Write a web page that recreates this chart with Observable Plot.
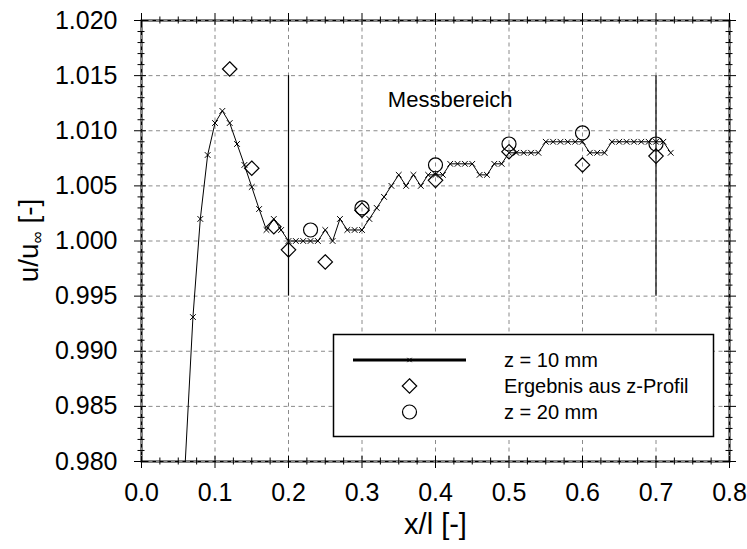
<!DOCTYPE html>
<html><head><meta charset="utf-8">
<script src="https://cdn.jsdelivr.net/npm/d3@7"></script>
<script src="https://cdn.jsdelivr.net/npm/@observablehq/plot@0.6"></script>
<style>body{margin:0;background:#fff;} svg{display:block;}</style>
</head><body><div id="chart"></div>
<script>
// ---- data ----
const xZ10 = [0.05,0.07,0.08,0.09,0.10,0.11,0.12,0.13,0.14,0.15,0.16,0.17,0.18,0.19,0.20,0.21,0.22,0.23,0.24,0.25,0.26,0.27,0.28,0.29,0.30,0.31,0.32,0.33,0.34,0.35,0.36,0.37,0.38,0.39,0.40,0.41,0.42,0.43,0.44,0.45,0.46,0.47,0.48,0.49,0.50,0.51,0.52,0.53,0.54,0.55,0.56,0.57,0.58,0.59,0.60,0.61,0.62,0.63,0.64,0.65,0.66,0.67,0.68,0.69,0.70,0.71,0.72];
const yZ10 = [0.968,0.9931,1.0020,1.0078,1.0107,1.0118,1.0107,1.0088,1.0069,1.0049,1.0029,1.0010,1.0020,1.0010,1.0000,1.0000,1.0000,1.0000,1.0000,1.0010,1.0000,1.0020,1.0010,1.0010,1.0010,1.0020,1.0030,1.0040,1.0050,1.0060,1.0050,1.0060,1.0050,1.0060,1.0060,1.0060,1.0070,1.0070,1.0070,1.0070,1.0060,1.0060,1.0070,1.0070,1.0080,1.0080,1.0080,1.0080,1.0080,1.0090,1.0090,1.0090,1.0090,1.0090,1.0090,1.0080,1.0080,1.0080,1.0090,1.0090,1.0090,1.0090,1.0090,1.0090,1.0090,1.0090,1.0080];
const xProfil = [0.12,0.15,0.18,0.20,0.25,0.30,0.40,0.50,0.60,0.70];
const yProfil = [1.0156,1.0066,1.0013,0.9992,0.9981,1.0028,1.0055,1.0081,1.0069,1.0077];
const xZ20 = [0.23,0.30,0.40,0.50,0.60,0.70];
const yZ20 = [1.0010,1.0030,1.0069,1.0088,1.0098,1.0088];
const xTickLabels = [0.0,0.1,0.2,0.3,0.4,0.5,0.6,0.7,0.8];
const yTickLabels = [0.980,0.985,0.990,0.995,1.000,1.005,1.010,1.015,1.020];
const rangeX = [0.2, 0.7];          // Messbereich limits
const rangeY = [0.995, 1.015];
const seriesNames = ["z = 10 mm", "Ergebnis aus z-Profil", "z = 20 mm"];
const annotations = [{label: "Messbereich", x: 0.42, y: 1.0128}];
const xTitle = "x/l [-]";

// ---- tables ----
const z10 = xZ10.map((x, i) => ({x, y: yZ10[i]}));
const profil = xProfil.map((x, i) => ({x, y: yProfil[i]}));
const z20 = xZ20.map((x, i) => ({x, y: yZ20[i]}));
const xMinor = d3.range(0, 33).filter(i => i % 4 !== 0).map(i => i * 0.025);
const yMinor = d3.range(0, 41).filter(i => i % 5 !== 0).map(i => 0.98 + i * 0.001);

const W = 747, H = 549;
const mL = 141, mR = 18, mT = 20, mB = 88;
const PW = W - mL - mR, PH = H - mT - mB;
const font = "'Liberation Sans', Arial, Helvetica, sans-serif";
const gridStyle = {stroke: "#8a8a8a", strokeOpacity: 1, strokeDasharray: "4,3.5", strokeWidth: 1};

const plot = Plot.plot({
  width: W, height: H,
  marginLeft: mL, marginRight: mR, marginTop: mT, marginBottom: mB,
  style: {fontFamily: font, background: "#fff", color: "#000", overflow: "visible"},
  x: {domain: [0, 0.8]},
  y: {domain: [0.98, 1.02]},
  marks: [
    Plot.frame({stroke: "#000", strokeWidth: 2}),
    Plot.gridX(xTickLabels, gridStyle),
    Plot.gridY(yTickLabels, gridStyle),
    // major ticks (crossing the frame)
    Plot.tickX(xTickLabels, {x: d => d, insetTop: PH - 5, insetBottom: -7, stroke: "#000"}),
    Plot.tickX(xTickLabels, {x: d => d, insetTop: -7, insetBottom: PH - 5, stroke: "#000"}),
    Plot.tickY(yTickLabels, {y: d => d, insetLeft: -7, insetRight: PW - 5, stroke: "#000"}),
    Plot.tickY(yTickLabels, {y: d => d, insetLeft: PW - 5, insetRight: -7, stroke: "#000"}),
    // minor ticks
    Plot.tickX(xMinor, {x: d => d, insetTop: PH - 3.5, insetBottom: -3.5, stroke: "#000"}),
    Plot.tickX(xMinor, {x: d => d, insetTop: -3.5, insetBottom: PH - 3.5, stroke: "#000"}),
    Plot.tickY(yMinor, {y: d => d, insetLeft: -3.5, insetRight: PW - 3.5, stroke: "#000"}),
    Plot.tickY(yMinor, {y: d => d, insetLeft: PW - 3.5, insetRight: -3.5, stroke: "#000"}),
    // tick labels
    Plot.axisX({ticks: xTickLabels, tickSize: 0, tickPadding: 22, tickFormat: d3.format(".1f"), fontSize: 25, label: null}),
    Plot.axisY({ticks: yTickLabels, tickSize: 0, tickPadding: 24, tickFormat: d3.format(".3f"), fontSize: 25, label: null}),
    // x title
    Plot.text([xTitle], {frameAnchor: "bottom", dy: 72, fontSize: 29, fill: "#000"}),
    // Messbereich limits
    Plot.ruleX(rangeX, {x: d => d, y1: rangeY[0], y2: rangeY[1], stroke: "#000", strokeWidth: 1.2}),
    Plot.text(annotations, {x: "x", y: "y", text: "label", fontSize: 22, fill: "#000"}),
    // data
    Plot.line(z10, {x: "x", y: "y", stroke: "#000", strokeWidth: 1, clip: true}),
    Plot.dot(z10, {x: "x", y: "y", symbol: "times", r: 2.7, stroke: "#000", strokeWidth: 1, clip: true}),
    Plot.dot(profil, {x: "x", y: "y", symbol: "diamond2", r: 6.5, fill: "none", stroke: "#000", strokeWidth: 1.2}),
    Plot.dot(z20, {x: "x", y: "y", symbol: "circle", r: 7, fill: "none", stroke: "#000", strokeWidth: 1.2})
  ]
});

const svg = d3.select(plot);
// y title with subscript infinity
const yt = svg.append("text")
  .attr("transform", "translate(38,240.5) rotate(-90)")
  .attr("text-anchor", "middle")
  .attr("font-size", 28).attr("font-family", font).attr("fill", "#000");
yt.append("tspan").text("u/u");
yt.append("tspan").attr("font-size", 17).attr("dy", 5).text("\u221e");
yt.append("tspan").attr("dy", -5).text("\u00a0[-]");

// legend box
const lg = svg.append("g").attr("font-family", font).attr("font-size", 20).attr("text-anchor", "start");
lg.append("rect").attr("x", 333.5).attr("y", 334.5).attr("width", 380).attr("height", 102)
  .attr("fill", "#fff").attr("stroke", "#000").attr("stroke-width", 1.5);
const rows = [360, 386, 412];
lg.append("line").attr("x1", 353).attr("x2", 466).attr("y1", rows[0]).attr("y2", rows[0])
  .attr("stroke", "#000").attr("stroke-width", 3);
lg.append("path").attr("transform", `translate(409.5,${rows[0]})`).attr("d", d3.symbol(d3.symbolTimes, 14)())
  .attr("stroke", "#000").attr("stroke-width", 1).attr("fill", "none");
lg.append("path").attr("transform", `translate(409.5,${rows[1]})`).attr("d", d3.symbol(d3.symbolDiamond2, Math.PI * 6.5 * 6.5)())
  .attr("stroke", "#000").attr("stroke-width", 1.2).attr("fill", "none");
lg.append("circle").attr("cx", 409.5).attr("cy", rows[2]).attr("r", 7)
  .attr("stroke", "#000").attr("stroke-width", 1.2).attr("fill", "none");
seriesNames.forEach((s, i) => {
  lg.append("text").attr("x", 504).attr("y", rows[i]).attr("dy", "0.35em")
    .attr("text-anchor", "start").attr("fill", "#000").text(s);
});

document.getElementById("chart").appendChild(plot);
</script>
</body></html>
